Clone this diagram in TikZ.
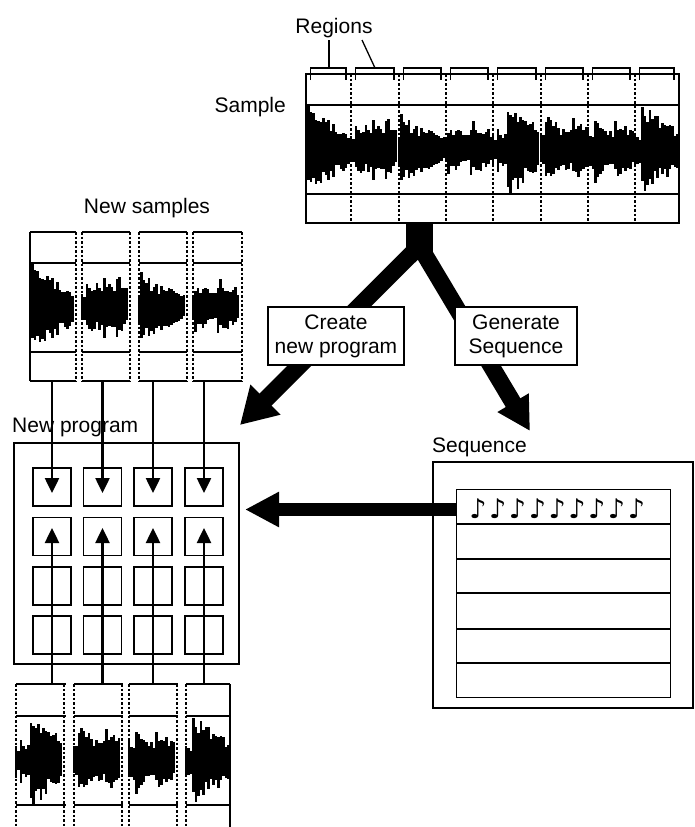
\documentclass[tikz,border=0pt]{standalone}
\usepackage{fontspec}
\setmainfont{Liberation Sans}
\newfontfamily\symfont{DejaVu Sans}
\usetikzlibrary{arrows.meta,calc}

\def\hitlist{306/46/45, 356/26/70, 372/30/30, 386/32/25, 400/34/45, 448/24/40, 470/30/40, 496/26/20, 508/46/42, 546/32/45, 572/32/40, 594/32/40, 614/30/35, 641/46/45}

\newcommand\wavepiece[5]{%
  \pgfmathsetseed{#5}%
  \pgfmathtruncatemacro\wvn{(#2-#1)/2.5}%
  \foreach \wvi in {0,...,\wvn}{%
    \pgfmathsetmacro\wvx{#1+2.5*\wvi}%
    \gdef\wvenv{4}%
    \foreach \hx/\ha/\ht in \hitlist{%
      \pgfmathsetmacro\wvt{(\wvx>=\hx)*\ha*exp(-min(max(\wvx-\hx,0)/\ht,8))}%
      \pgfmathsetmacro\wvm{max(\wvenv,\wvt)}%
      \xdef\wvenv{\wvm}%
    }%
    \pgfmathsetmacro\wvup{min(44,\wvenv*(0.6+0.5*rnd))}%
    \pgfmathsetmacro\wvdn{min(44,\wvenv*(0.6+0.5*rnd))}%
    \fill (\wvx+#3-1.3,#4-\wvup) rectangle (\wvx+#3+1.4,#4+\wvdn);%
  }%
}

\begin{document}
\begin{tikzpicture}[x=1pt,y=-1pt,
  thinline/.style={line width=1.3pt},
  dashline/.style={line width=1.2pt,dash pattern=on 2.5pt off 2pt},
  lbl/.style={font=\fontsize{21}{24}\selectfont,inner sep=0pt},
  pad/.style={draw,line width=1.2pt,minimum width=38pt,minimum height=38pt,inner sep=0pt},
  padarrow/.style={line width=2.5pt,-{Triangle[length=15pt,width=14pt]}},
  bigarrow/.style={line width=17pt,-{Triangle[length=36pt,width=40pt]}},
  actbox/.style={draw,fill=white,line width=2pt,align=center,inner sep=0pt,font=\fontsize{21}{24}\selectfont,minimum height=58pt},
  heavybox/.style={draw,line width=2.5pt,inner sep=0pt}]
\useasboundingbox (0,0) rectangle (695,827);

% ---------- main sample ----------
\wavepiece{306}{349}{0}{149.5}{1}
\wavepiece{351}{397}{0}{149.5}{2}
\wavepiece{399}{444}{0}{149.5}{3}
\wavepiece{446}{491}{0}{149.5}{4}
\wavepiece{493}{539}{0}{149.5}{5}
\wavepiece{541}{586}{0}{149.5}{6}
\wavepiece{588}{633}{0}{149.5}{7}
\wavepiece{635}{678}{0}{149.5}{8}
\draw[thinline] (306,74) rectangle (679,223);
\draw[thinline] (306,105) -- (679,105);
\draw[thinline] (306,194) -- (679,194);
\foreach \xx in {351,399,446,493,541,588,635}
  \draw[dashline] (\xx,74) -- (\xx,223);
\foreach \a/\b in {306/351,351/399,399/446,446/493,493/541,541/588,588/635,635/679}
  \draw[thinline] (\a+4.5,80) -- (\a+4.5,68) -- (\b-5,68) -- (\b-5,80);

\node[lbl,anchor=base] (regions) at (334,33) {Regions};
\coordinate (rega) at (329,68);
\coordinate (regb) at (375,68);
\draw[thinline] (329,40) -- (rega);
\draw[thinline] (362,40) -- (regb);
\node[lbl,anchor=base east] (sample) at (286,112) {Sample};

% ---------- top new samples ----------
\wavepiece{306}{349}{-276}{307.5}{1}
\wavepiece{351}{397}{-269}{307.5}{2}
\wavepiece{399}{444}{-260}{307.5}{3}
\wavepiece{446}{491}{-253}{307.5}{4}
\foreach \L/\R in {30/76,82/130,139/187,193/242}{
  \foreach \yy in {232,263,352,381}
    \draw[thinline] (\L,\yy) -- (\R,\yy);
  \draw[dashline] (\R,232) -- (\R,381);
}
\draw[thinline] (30,232) -- (30,381);
\foreach \L in {82,139,193}
  \draw[dashline] (\L,232) -- (\L,381);
\node[lbl,anchor=base] (newsamples) at (147,213) {New samples};

% ---------- bottom new samples ----------
\wavepiece{493}{539}{-477}{760.5}{5}
\wavepiece{541}{586}{-467}{760.5}{6}
\wavepiece{588}{633}{-459}{760.5}{7}
\wavepiece{635}{678}{-449}{760.5}{8}
\foreach \L/\R in {16/66,74/123,129/178,186/230}{
  \foreach \yy in {684,716,805}
    \draw[thinline] (\L,\yy) -- (\R,\yy);
  \draw[dashline] (\L,684) -- (\L,827);
}
\foreach \R in {64,122,177}
  \draw[dashline] (\R,684) -- (\R,827);
\draw[thinline] (230,684) -- (230,827);

% ---------- new program ----------
\node[heavybox,minimum width=225pt,minimum height=221pt] (prog) at (126.5,553.5) {};
\node[lbl,anchor=base west] (newprogram) at (12,432) {New program};
\foreach \r/\yy in {1/487,2/536.5,3/586,4/635}
  \foreach \c/\xx in {1/52,2/102.5,3/153,4/204}
    \node[pad] (p\r\c) at (\xx,\yy) {};
\foreach \c/\xx in {1/52,2/102.5,3/153,4/204}{
  \coordinate (ts\c) at (\xx,381);
  \coordinate (bs\c) at (\xx,684);
  \draw[padarrow] (ts\c) -- ($(p1\c.center)+(0,6)$);
  \draw[padarrow] (bs\c) -- ($(p2\c.center)+(0,-8.5)$);
}

% ---------- sequence ----------
\node[heavybox,minimum width=260pt,minimum height=246pt] (seqbox) at (563,585) {};
\node[lbl,anchor=base west] (sequence) at (432,452) {Sequence};
\node[draw,line width=1pt,minimum width=214pt,minimum height=208pt,inner sep=0pt] (tab) at (563,593) {};
\foreach \yy in {524,559,593,629,663}
  \draw[line width=1.6pt] (456,\yy) -- (670,\yy);
\foreach \k in {0,...,8}
  \node[font=\symfont\fontsize{27}{27}\selectfont,inner sep=0pt,anchor=base] (n\k) at (478+19.8*\k,518) {♪};

% ---------- big arrows ----------
\coordinate (row1w) at (457,509.5);
\coordinate (htip) at (245,509.5);
\draw[line width=13pt,-{Triangle[length=34pt,width=33pt]}] (row1w) -- (htip);

\coordinate (stemtop) at (419.5,223);
\coordinate (fork) at (419.5,246);
\coordinate (ltip) at (240,425);
\coordinate (rtip) at (530,431);
\draw[line width=27pt] (stemtop) -- (419.5,252);
\draw[bigarrow] (fork) -- (ltip);
\draw[line width=17pt,-{Triangle[length=33pt,width=34pt]}] (fork) -- (rtip);

\node[actbox,minimum width=136pt] (create) at (336,336) {Create\\new program};
\node[actbox,minimum width=122pt] (generate) at (516,336) {Generate\\Sequence};
\end{tikzpicture}
\end{document}
